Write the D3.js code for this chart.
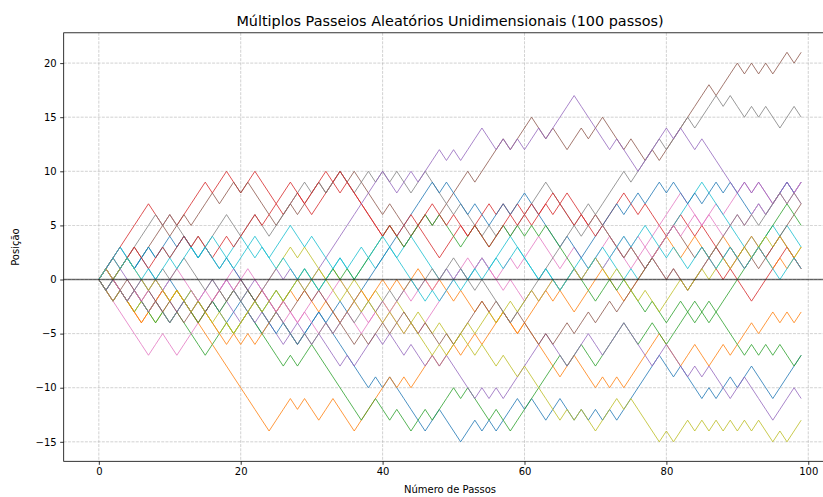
<!DOCTYPE html>
<html>
<head>
<meta charset="utf-8">
<script src="https://cdn.jsdelivr.net/npm/d3@7"></script>
<style>
  html, body { margin: 0; padding: 0; background: #ffffff; }
  svg { display: block; }
  text { font-family: "DejaVu Sans", sans-serif; fill: #000; }
</style>
</head>
<body>
<svg id="grafico" width="823" height="497"></svg>
<script>
// Títulos e rótulos
const titulo = "Múltiplos Passeios Aleatórios Unidimensionais (100 passos)";
const rotuloX = "Número de Passos";
const rotuloY = "Posição";
const ticksX = [0, 20, 40, 60, 80, 100];
const ticksY = [-15, -10, -5, 0, 5, 10, 15, 20];

// Posição de cada passeio em cada passo (0..99)
const passeio01 = [0,1,2,3,2,1,2,1,0,-1, 0,-1,-2,-1,-2,-3,-2,-3,-4,-3, -2,-3,-4,-5,-4,-3,-4,-5,-6,-5, -4,-3,-4,-5,-6,-7,-8,-9,-10,-9, -10,-9,-10,-11,-12,-13,-14,-13,-12,-13, -14,-15,-14,-13,-14,-13,-14,-13,-12,-11, -12,-11,-12,-13,-12,-11,-12,-13,-12,-13, -12,-13,-12,-13,-12,-11,-10,-9,-8,-7, -8,-9,-8,-9,-10,-11,-10,-11,-10,-9, -10,-9,-8,-9,-10,-11,-10,-9,-8,-7];
const passeio02 = [0,-1,0,-1,-2,-3,-4,-3,-2,-1, -2,-1,-2,-3,-4,-5,-6,-7,-8,-9, -10,-11,-12,-13,-14,-13,-12,-11,-12,-11, -12,-13,-12,-11,-12,-13,-14,-13,-12,-11, -10,-9,-10,-9,-10,-9,-8,-7,-8,-7, -6,-7,-6,-5,-6,-5,-4,-3,-4,-5, -4,-5,-6,-7,-8,-9,-8,-7,-8,-9, -10,-9,-10,-9,-10,-9,-8,-7,-6,-5, -6,-7,-8,-7,-6,-7,-8,-7,-6,-7, -6,-5,-4,-5,-4,-3,-4,-3,-4,-3];
const passeio03 = [0,-1,-2,-1,-2,-3,-2,-3,-2,-3, -4,-3,-4,-5,-6,-7,-6,-5,-4,-5, -4,-3,-4,-5,-6,-7,-8,-7,-8,-7, -6,-7,-8,-9,-10,-11,-12,-13,-12,-11, -12,-13,-12,-13,-14,-13,-12,-13,-12,-11, -10,-11,-10,-11,-12,-13,-12,-13,-14,-13, -12,-11,-10,-9,-8,-7,-8,-7,-6,-7, -8,-7,-6,-5,-4,-5,-6,-5,-4,-5, -6,-5,-4,-3,-4,-3,-2,-3,-4,-5, -6,-7,-6,-7,-6,-7,-6,-7,-8,-7];
const passeio04 = [0,1,2,3,4,5,6,7,6,5, 6,5,6,7,8,9,8,9,10,9, 8,9,10,9,8,7,6,7,8,7, 6,7,8,9,8,9,8,7,6,5, 4,5,4,3,4,5,4,3,2,3, 4,5,4,5,6,7,6,7,6,7, 6,5,6,7,6,7,8,7,6,5, 6,5,6,7,8,7,6,7,6,5, 4,5,6,5,4,5,4,3,2,1, 0,-1,-2,-1,0,1,2,3,2,1];
const passeio05 = [0,1,0,1,0,-1,0,-1,-2,-1, -2,-3,-2,-3,-4,-3,-2,-3,-2,-3, -4,-3,-4,-3,-4,-5,-6,-5,-4,-5, -6,-5,-6,-7,-8,-7,-8,-7,-6,-5, -6,-5,-6,-7,-6,-7,-8,-7,-8,-7, -8,-9,-10,-11,-10,-11,-10,-11,-10,-9, -8,-7,-6,-5,-6,-7,-8,-7,-6,-5, -6,-7,-6,-5,-4,-5,-6,-7,-8,-7, -6,-7,-8,-9,-8,-9,-8,-9,-10,-11, -10,-9,-10,-11,-12,-13,-12,-11,-10,-11];
const passeio06 = [0,1,0,1,2,3,2,3,4,5, 4,5,6,5,6,7,8,7,8,9, 8,9,8,7,6,5,6,7,6,7, 8,9,8,9,10,9,10,9,8,7, 6,7,6,5,4,5,6,5,6,7, 8,9,10,9,10,11,12,13,12,13, 14,15,14,13,14,13,12,13,14,13, 14,15,14,13,12,13,12,11,12,11, 12,13,14,15,16,17,18,17,18,19, 20,19,20,19,20,19,20,21,20,21];
const passeio07 = [0,-1,-2,-3,-4,-5,-6,-7,-6,-5, -6,-7,-6,-5,-4,-3,-2,-1,0,1, 0,-1,-2,-1,-2,-3,-4,-3,-4,-3, -2,-1,-2,-1,0,-1,-2,-3,-4,-3, -4,-3,-4,-5,-4,-5,-4,-3,-2,-1, 0,1,0,1,2,1,0,1,2,1, 2,3,4,3,2,1,2,3,2,1, 2,3,4,3,2,1,2,3,4,5, 6,7,8,7,6,5,6,7,6,7, 8,9,8,9,8,7,8,9,8,7];
const passeio08 = [0,1,0,1,2,3,4,5,6,5, 6,5,4,3,4,3,4,5,6,5, 4,5,6,5,4,5,6,7,8,9, 8,9,8,9,10,9,8,9,10,9, 10,9,10,9,8,9,10,9,8,7, 6,7,6,5,4,5,4,5,4,5, 6,7,8,9,8,7,6,5,6,7, 6,7,8,9,10,9,10,11,12,13, 12,13,14,15,14,15,16,17,16,17, 16,15,16,15,16,15,14,15,16,15];
const passeio09 = [0,-1,-2,-1,-2,-3,-2,-3,-4,-3, -2,-1,-2,-1,-2,-3,-4,-5,-4,-5, -4,-3,-2,-1,0,1,2,3,2,3, 2,1,0,1,0,-1,0,-1,-2,-1, -2,-3,-2,-3,-4,-3,-4,-5,-4,-5, -6,-5,-6,-7,-6,-7,-8,-7,-8,-9, -8,-9,-10,-11,-12,-13,-12,-13,-12,-13, -14,-13,-12,-11,-12,-11,-12,-13,-14,-15, -14,-15,-14,-13,-14,-13,-14,-13,-14,-13, -14,-13,-14,-13,-14,-15,-14,-15,-14,-13];
const passeio10 = [0,1,2,3,2,1,2,3,2,3, 2,3,4,3,2,3,4,3,2,3, 4,3,4,3,2,3,4,5,4,3, 4,3,2,1,2,1,0,1,2,1, 2,3,2,3,4,3,2,1,0,1, 0,1,0,1,2,1,2,3,4,3, 2,1,0,1,0,-1,0,1,0,1, 2,1,2,1,0,1,0,1,2,3, 4,5,6,7,8,9,8,7,6,5, 4,3,4,3,4,5,4,5,4,3];
const passeio11 = [0,-1,0,1,2,1,2,3,2,3, 4,3,4,3,2,3,2,1,2,1, 0,-1,-2,-3,-4,-5,-4,-5,-6,-5, -4,-3,-4,-3,-2,-3,-2,-1,0,1, 2,3,4,5,6,7,8,9,8,9, 8,7,6,7,6,5,6,7,6,7, 8,7,6,5,4,3,4,3,2,3, 4,5,6,7,6,7,8,7,8,9, 8,9,8,7,8,7,8,9,8,9, 8,7,6,7,6,7,8,9,8,9];
const passeio12 = [0,-1,-2,-1,-2,-3,-4,-3,-2,-1, -2,-1,-2,-3,-4,-3,-4,-5,-6,-5, -6,-5,-6,-5,-4,-3,-2,-1,-2,-1, -2,-3,-2,-3,-4,-3,-2,-1,-2,-1, 0,-1,0,-1,0,1,0,-1,0,-1, -2,-1,-2,-3,-2,-3,-4,-3,-4,-5, -4,-3,-2,-1,-2,-1,-2,-3,-2,-1, 0,1,0,-1,-2,-1,0,1,2,3, 4,3,2,3,4,3,2,3,4,3, 2,3,4,3,2,1,2,1,2,3];
const passeio13 = [0,-1,0,-1,-2,-1,-2,-3,-4,-3, -4,-3,-2,-3,-4,-3,-2,-3,-2,-1, -2,-1,-2,-3,-2,-1,-2,-1,0,1, 0,-1,0,1,0,1,0,1,2,3, 4,5,4,3,4,5,6,5,6,5, 4,3,4,5,4,3,4,5,4,5, 4,5,4,5,4,3,2,1,0,-1, -2,-1,0,-1,0,-1,-2,-3,-2,-3, -4,-3,-2,-3,-2,-3,-4,-3,-2,-1, 0,1,2,3,4,5,6,7,6,5];
const passeio14 = [0,1,2,1,2,3,2,1,2,3, 2,3,4,3,4,3,2,3,4,3, 4,5,6,5,6,7,8,9,8,7, 8,9,10,9,10,9,8,7,6,5, 4,5,4,5,6,5,6,7,6,5, 6,5,4,5,4,3,4,5,6,5, 6,7,6,7,8,7,6,5,6,5, 4,5,4,3,2,3,2,1,2,1, 0,1,0,-1,0,1,2,1,0,1, 2,1,2,3,2,3,4,3,2,1];
const passeio15 = [0,-1,0,-1,-2,-1,-2,-3,-2,-3, -4,-3,-2,-3,-2,-1,0,-1,0,-1, -2,-1,0,-1,0,1,0,1,0,-1, 0,1,2,3,4,5,6,7,8,9, 10,9,8,9,10,9,10,11,12,11, 12,11,12,13,14,13,12,13,12,13, 12,13,14,13,14,15,16,17,16,15, 14,13,12,13,12,11,10,11,12,13, 14,13,14,13,12,13,12,11,10,9, 8,9,8,9,8,7,8,9,8,9];
const passeio16 = [0,1,0,-1,0,-1,-2,-1,-2,-3, -2,-3,-4,-3,-2,-3,-2,-1,-2,-1, 0,-1,-2,-1,-2,-3,-2,-3,-2,-1, -2,-1,-2,-3,-4,-5,-6,-5,-6,-5, -4,-5,-4,-3,-4,-5,-4,-5,-6,-5, -6,-5,-4,-3,-2,-3,-2,-3,-4,-3, -4,-5,-6,-5,-6,-5,-4,-5,-4,-3, -4,-3,-2,-3,-2,-1,0,1,2,3, 4,5,4,3,2,3,2,3,2,3, 2,3,2,1,2,3,4,5,6,7];
const passeio17 = [0,1,0,-1,-2,-1,-2,-1,0,-1, 0,1,0,-1,-2,-1,-2,-1,0,-1, 0,1,0,-1,-2,-3,-2,-3,-4,-3, -4,-5,-4,-5,-4,-3,-4,-5,-4,-3, -2,-3,-2,-1,-2,-1,0,-1,0,1, 0,1,2,1,2,1,0,-1,0,-1, -2,-1,-2,-1,0,-1,0,1,0,1, 2,1,2,3,4,3,4,3,2,3, 4,5,4,5,6,5,6,5,4,5, 6,5,6,7,6,7,8,7,8,9];
const passeio18 = [0,-1,-2,-1,-2,-1,0,-1,0,1, 0,1,2,1,0,-1,0,-1,-2,-1, -2,-3,-2,-3,-4,-3,-4,-5,-6,-5, -6,-5,-4,-5,-4,-3,-4,-3,-2,-3, -2,-1,-2,-1,0,-1,0,1,0,1, 2,1,0,-1,0,-1,-2,-3,-4,-3, -2,-1,0,1,2,3,4,5,4,5, 6,5,4,3,2,3,2,1,2,1, 0,1,0,-1,0,1,2,3,4,5, 6,5,6,5,6,7,8,7,8,7];
const passeio19 = [0,1,0,1,2,1,0,-1,0,-1, -2,-1,-2,-3,-2,-3,-4,-3,-4,-5, -4,-3,-2,-3,-2,-1,-2,-1,0,-1, 0,1,0,-1,-2,-1,-2,-3,-2,-3, -4,-3,-4,-5,-4,-5,-6,-7,-6,-7, -6,-5,-4,-5,-4,-3,-4,-3,-2,-3, -2,-1,-2,-1,0,-1,0,1,0,1, 2,1,0,1,0,-1,-2,-1,-2,-3, -2,-1,0,-1,0,1,0,1,2,1, 2,3,2,3,4,3,4,3,2,3];
const passeio20 = [0,1,2,1,2,1,0,1,0,1, 2,1,2,3,2,3,2,1,2,1, 2,3,2,3,2,1,2,1,0,1, 0,-1,0,1,2,1,2,3,2,3, 4,3,2,1,0,-1,-2,-1,-2,-1, 0,-1,0,1,0,1,2,1,2,3, 2,1,0,1,0,-1,0,1,2,1, 2,3,2,3,4,3,4,5,4,3, 2,3,2,1,2,3,2,1,2,3, 2,1,2,3,2,1,0,1,2,1];

const passeios = [passeio01, passeio02, passeio03, passeio04, passeio05,
                  passeio06, passeio07, passeio08, passeio09, passeio10,
                  passeio11, passeio12, passeio13, passeio14, passeio15,
                  passeio16, passeio17, passeio18, passeio19, passeio20];

// Ciclo de cores padrão (tab10)
const cores = ["#1f77b4", "#ff7f0e", "#2ca02c", "#d62728", "#9467bd",
               "#8c564b", "#e377c2", "#7f7f7f", "#bcbd22", "#17becf"];

const svg = d3.select("#grafico");
const area = { esquerda: 63.7, direita: 836.3, topo: 32.8, base: 461.3 };

const x = d3.scaleLinear().domain([-4.95, 103.95]).range([area.esquerda, area.direita]);
const y = d3.scaleLinear().domain([-16.8, 22.8]).range([area.base, area.topo]);

svg.append("defs").append("clipPath").attr("id", "recorte")
  .append("rect")
  .attr("x", area.esquerda).attr("y", area.topo)
  .attr("width", area.direita - area.esquerda)
  .attr("height", area.base - area.topo);

// Grade tracejada
const grade = svg.append("g");
grade.selectAll("line.gx").data(ticksX).join("line")
  .attr("x1", d => x(d)).attr("x2", d => x(d))
  .attr("y1", area.topo).attr("y2", area.base)
  .attr("stroke", "#b0b0b0").attr("stroke-width", 0.8)
  .attr("stroke-dasharray", "2.96,1.28").attr("opacity", 0.7);
grade.selectAll("line.gy").data(ticksY).join("line")
  .attr("x1", area.esquerda).attr("x2", area.direita)
  .attr("y1", d => y(d)).attr("y2", d => y(d))
  .attr("stroke", "#b0b0b0").attr("stroke-width", 0.8)
  .attr("stroke-dasharray", "2.96,1.28").attr("opacity", 0.7);

// Passeios
const linha = d3.line().x((d, i) => x(i)).y(d => y(d));
svg.append("g").attr("clip-path", "url(#recorte)")
  .selectAll("path").data(passeios).join("path")
  .attr("d", linha)
  .attr("fill", "none")
  .attr("stroke", (d, i) => cores[i % cores.length])
  .attr("stroke-width", 1)
  .attr("stroke-opacity", 0.8)
  .attr("stroke-linejoin", "round");

// Linha de referência em zero
svg.append("line")
  .attr("x1", area.esquerda).attr("x2", area.direita)
  .attr("y1", y(0)).attr("y2", y(0))
  .attr("stroke", "#000").attr("stroke-opacity", 0.55).attr("stroke-width", 1.5);

// Eixos
const fmt = d => d < 0 ? "\u2212" + Math.abs(d) : String(d);
const eixoX = svg.append("g").attr("transform", `translate(0,${area.base})`)
  .call(d3.axisBottom(x).tickValues(ticksX).tickFormat(fmt).tickSize(3.5).tickPadding(3.5));
const eixoY = svg.append("g").attr("transform", `translate(${area.esquerda},0)`)
  .call(d3.axisLeft(y).tickValues(ticksY).tickFormat(fmt).tickSize(3.5).tickPadding(3.5));
[eixoX, eixoY].forEach(g => {
  g.select(".domain").remove();
  g.selectAll(".tick line").attr("stroke", "#000").attr("stroke-width", 0.8);
  g.selectAll(".tick text").style("font-family", "DejaVu Sans").style("font-size", "10px").attr("fill", "#000");
});

// Moldura
svg.append("rect")
  .attr("x", area.esquerda).attr("y", area.topo)
  .attr("width", area.direita - area.esquerda)
  .attr("height", area.base - area.topo)
  .attr("fill", "none").attr("stroke", "#000").attr("stroke-width", 0.8);

// Textos
svg.append("text").attr("x", (area.esquerda + area.direita) / 2).attr("y", 25.5)
  .attr("text-anchor", "middle").style("font-size", "14.4px").text(titulo);
svg.append("text").attr("x", (area.esquerda + area.direita) / 2).attr("y", 492.5)
  .attr("text-anchor", "middle").style("font-size", "10px").text(rotuloX);
svg.append("text")
  .attr("transform", `translate(19,${(area.topo + area.base) / 2}) rotate(-90)`)
  .attr("text-anchor", "middle").style("font-size", "10px").text(rotuloY);
</script>
</body>
</html>
